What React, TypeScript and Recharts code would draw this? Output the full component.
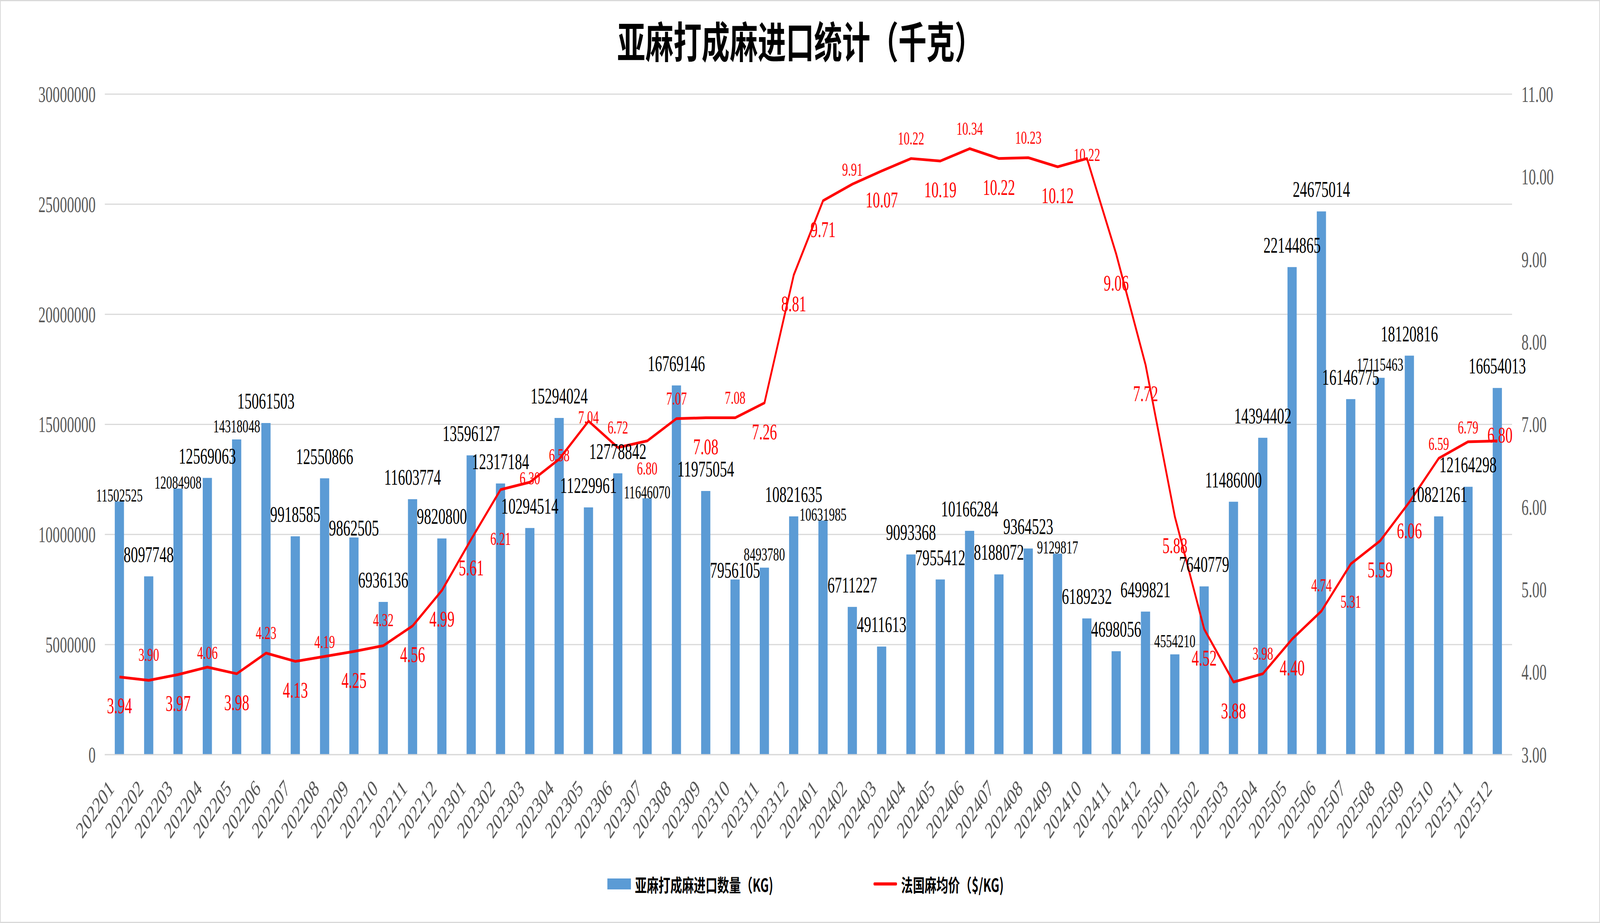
import React from 'react';
import { ComposedChart, Bar, Line, XAxis, YAxis, CartesianGrid, LabelList } from 'recharts';

const months = [
  '202201', '202202', '202203', '202204', '202205', '202206', '202207', '202208', '202209', '202210', '202211', '202212',
  '202301', '202302', '202303', '202304', '202305', '202306', '202307', '202308', '202309', '202310', '202311', '202312',
  '202401', '202402', '202403', '202404', '202405', '202406', '202407', '202408', '202409', '202410', '202411', '202412',
  '202501', '202502', '202503', '202504', '202505', '202506', '202507', '202508', '202509', '202510', '202511', '202512',
];

const quantities = [
  11502525, 8097748, 12084908, 12569063, 14318048, 15061503, 9918585, 12550866, 9862505, 6936136, 11603774, 9820800,
  13596127, 12317184, 10294514, 15294024, 11229961, 12778842, 11646070, 16769146, 11975054, 7956105, 8493780, 10821635,
  10631985, 6711227, 4911613, 9093368, 7955412, 10166284, 8188072, 9364523, 9129817, 6189232, 4698056, 6499821,
  4554210, 7640779, 11486000, 14394402, 22144865, 24675014, 16146775, 17115463, 18120816, 10821261, 12164298, 16654013,
];

const prices = [
  3.94, 3.9, 3.97, 4.06, 3.98, 4.23, 4.13, 4.19, 4.25, 4.32, 4.56, 4.99,
  5.61, 6.21, 6.3, 6.58, 7.04, 6.72, 6.8, 7.07, 7.08, 7.08, 7.26, 8.81,
  9.71, 9.91, 10.07, 10.22, 10.19, 10.34, 10.22, 10.23, 10.12, 10.22, 9.06, 7.72,
  5.88, 4.52, 3.88, 3.98, 4.4, 4.74, 5.31, 5.59, 6.06, 6.59, 6.79, 6.8,
];

const leftTicks = [0, 5000000, 10000000, 15000000, 20000000, 25000000, 30000000];
const rightTicks = [3, 4, 5, 6, 7, 8, 9, 10, 11];

const titleText = '亚麻打成麻进口统计（千克）';
const barSeriesName = '亚麻打成麻进口数量（KG)';
const lineSeriesName = '法国麻均价（$/KG)';

// Bar label style codes (styling only):
// l = large label above bar, c = large label sitting on the bar,
// s = small label sitting on the bar, S = small label slightly above bar
const qtyLabelStyle = [
  's', 'l', 's', 'l', 'S', 'l', 'l', 'l', 'c', 'l', 'l', 'l',
  'l', 'l', 'l', 'l', 'l', 'l', 's', 'l', 'l', 'c', 'S', 'l',
  's', 'l', 'l', 'l', 'l', 'l', 'l', 'l', 's', 'l', 'l', 'l',
  'S', 'l', 'l', 'l', 'l', 'l', 'l', 'S', 'l', 'l', 'l', 'l',
];
// Price label style codes (styling only):
// a = small above, h = small high above, n = small near above, o = small on line,
// b = large below, s = small below, S = small far below, T = small very far below, e = large at end
const priceLabelStyle = [
  'b', 'h', 'b', 'n', 'b', 'a', 'b', 'n', 'b', 'h', 'b', 'b',
  'b', 'T', 'o', 'o', 'o', 'a', 's', 'a', 'b', 'a', 'b', 'b',
  'b', 'n', 'b', 'a', 'b', 'a', 'b', 'a', 'b', 'o', 'b', 'b',
  'b', 'b', 'b', 'a', 'b', 'h', 'S', 'b', 'b', 'n', 'n', 'e',
];

const data = months.map((m, i) => ({ month: m, qty: quantities[i], price: prices[i] }));

const SERIF = '"Liberation Serif", "DejaVu Serif", serif';
const CJK = '"Noto Sans CJK SC", "Noto Sans", sans-serif';
const AXIS_COLOR = '#595959';
const GRID_COLOR = '#D9D9D9';
const BAR_COLOR = '#5B9BD5';
const LINE_COLOR = '#FF0000';

const BAR_LABEL = {
  l: { size: 56, gap: 37 },
  c: { size: 56, gap: 5 },
  s: { size: 46, gap: 0 },
  S: { size: 46, gap: 18 },
} as Record<string, { size: number; gap: number }>;

const PRICE_LABEL = {
  a: { size: 46, dy: -36, dx: 0 },
  h: { size: 46, dy: -50, dx: 0 },
  n: { size: 46, dy: -21, dx: 0 },
  o: { size: 46, dy: 6, dx: 0 },
  b: { size: 56, dy: 93, dx: 0 },
  s: { size: 46, dy: 86, dx: 0 },
  S: { size: 46, dy: 112, dx: 0 },
  T: { size: 46, dy: 142, dx: 0 },
  e: { size: 56, dy: 4, dx: 10 },
} as Record<string, { size: number; dy: number; dx: number }>;

function getBox(props: any) {
  const vb = props.viewBox || {};
  const x = props.x ?? vb.x;
  const y = props.y ?? vb.y;
  const width = props.width ?? vb.width ?? 0;
  return { x: Number(x), y: Number(y), width: Number(width) };
}

const BarLabel = (props: any) => {
  const { x, y, width } = getBox(props);
  let idx = props.index;
  if (idx === undefined || idx === null) idx = quantities.indexOf(Number(props.value));
  const st = BAR_LABEL[qtyLabelStyle[idx]] || BAR_LABEL.l;
  return (
    <text x={x + width / 2} y={y - st.gap} textAnchor="middle" fontSize={st.size} fontFamily={SERIF} fill="#000000">
      {props.value}
    </text>
  );
};

const PriceLabel = (props: any) => {
  const { x, y } = getBox(props);
  const idx = props.index ?? 0;
  const st = PRICE_LABEL[priceLabelStyle[idx]] || PRICE_LABEL.a;
  return (
    <text x={x + st.dx} y={y + st.dy} textAnchor="middle" fontSize={st.size} fontFamily={SERIF} fill={LINE_COLOR}>
      {Number(props.value).toFixed(2)}
    </text>
  );
};

const XTick = (props: any) => {
  const { x, y, payload } = props;
  const ax = x - 18;
  const ay = y + 82;
  return (
    <text x={ax} y={ay} transform={`rotate(-45 ${ax} ${ay})`} textAnchor="end" fontSize={60} fontFamily={SERIF} fill={AXIS_COLOR}>
      {payload.value}
    </text>
  );
};

export default function App() {
  const W = 6259;
  const H = 2363;
  const vw = typeof window !== 'undefined' ? window.innerWidth : W;
  const sx = Math.min(1, vw / W);
  return (
    <div style={{ position: 'absolute', left: 0, top: 0, width: Math.round(W * sx), height: H, overflow: 'hidden', background: '#fff' }}>
      <div
        style={{
          position: 'absolute', left: 0, top: 0, width: W, height: H, background: '#fff',
          transform: `scale(${sx}, 1)`, transformOrigin: '0 0',
        }}
      >
        <div
          style={{
            position: 'absolute', left: 0, top: 0, width: W, height: H,
            boxSizing: 'border-box', border: `3px solid ${GRID_COLOR}`, pointerEvents: 'none',
          }}
        />
        <div
          style={{
            position: 'absolute', left: 0, top: 46, width: W, textAlign: 'center',
            fontFamily: CJK, fontWeight: 700, fontSize: 110, lineHeight: '110px', color: '#000',
          }}
        >
          {titleText}
        </div>
        <ComposedChart width={W} height={H} data={data} margin={{ top: 241, right: 44, bottom: 231, left: 30 }}>
          <CartesianGrid yAxisId="left" vertical={false} stroke={GRID_COLOR} strokeWidth={3} />
          <XAxis dataKey="month" interval={0} height={200} tickLine={false} axisLine={{ stroke: GRID_COLOR, strokeWidth: 3 }} tick={<XTick />} />
          <YAxis
            yAxisId="left" orientation="left" width={380} domain={[0, 30000000]} ticks={leftTicks} interval={0}
            axisLine={false} tickLine={false} tickMargin={30}
            tick={{ fontSize: 56, fill: AXIS_COLOR, fontFamily: SERIF }}
          />
          <YAxis
            yAxisId="right" orientation="right" width={300} domain={[3, 11]} ticks={rightTicks} interval={0}
            axisLine={false} tickLine={false} tickMargin={31}
            tickFormatter={(v: number) => v.toFixed(2)}
            tick={{ fontSize: 56, fill: AXIS_COLOR, fontFamily: SERIF }}
          />
          <Bar yAxisId="left" dataKey="qty" name={barSeriesName} fill={BAR_COLOR} barSize={36} isAnimationActive={false}>
            <LabelList dataKey="qty" content={<BarLabel />} />
          </Bar>
          <Line
            yAxisId="right" type="linear" dataKey="price" name={lineSeriesName} stroke={LINE_COLOR} strokeWidth={7}
            strokeLinejoin="round" dot={false} activeDot={false} isAnimationActive={false}
          >
            <LabelList dataKey="price" content={<PriceLabel />} />
          </Line>
        </ComposedChart>
        <div style={{ position: 'absolute', left: 2376, top: 2249, width: 92, height: 28, background: BAR_COLOR }} />
        <div
          style={{
            position: 'absolute', left: 2484, top: 2240, whiteSpace: 'nowrap',
            fontFamily: CJK, fontWeight: 700, fontSize: 46, lineHeight: '46px', color: '#000',
          }}
        >
          {barSeriesName}
        </div>
        <div style={{ position: 'absolute', left: 3417, top: 2259, width: 92, height: 8, borderRadius: 4, background: LINE_COLOR }} />
        <div
          style={{
            position: 'absolute', left: 3525, top: 2240, whiteSpace: 'nowrap',
            fontFamily: CJK, fontWeight: 700, fontSize: 46, lineHeight: '46px', color: '#000',
          }}
        >
          {lineSeriesName}
        </div>
      </div>
    </div>
  );
}
